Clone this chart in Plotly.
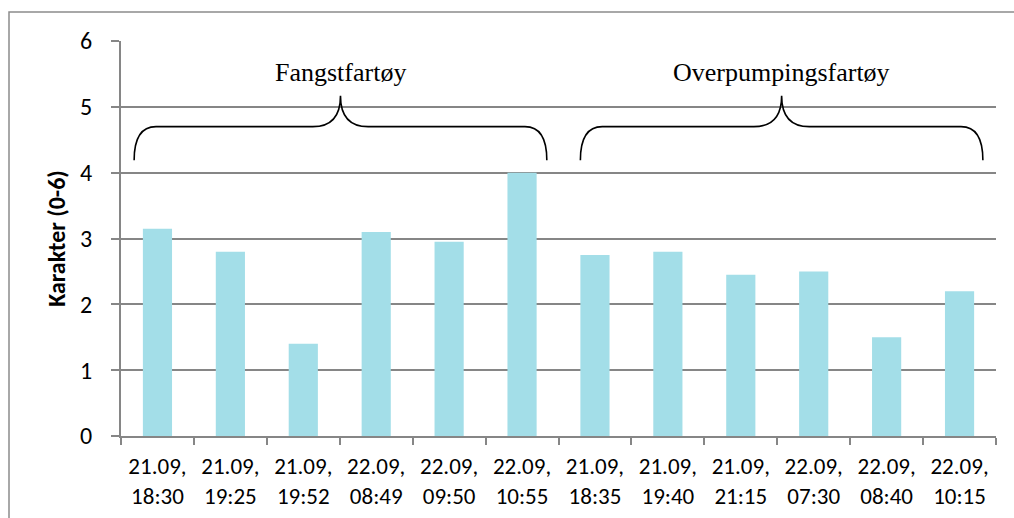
import plotly.graph_objects as go

categories = ["21.09,<br>18:30", "21.09,<br>19:25", "21.09,<br>19:52", "22.09,<br>08:49",
              "22.09,<br>09:50", "22.09,<br>10:55", "21.09,<br>18:35", "21.09,<br>19:40",
              "21.09,<br>21:15", "22.09,<br>07:30", "22.09,<br>08:40", "22.09,<br>10:15"]
values = [3.15, 2.8, 1.4, 3.1, 2.95, 4.0, 2.75, 2.8, 2.45, 2.5, 1.5, 2.2]
group_labels = ["Fangstfartøy", "Overpumpingsfartøy"]
group_spans = [(-0.32, 5.34), (5.80, 11.32)]
y_ticks = [0, 1, 2, 3, 4, 5, 6]

L, R, T, B = 121, 18, 41, 82
W, H = 1014, 518
pw, ph = W - L - R, H - T - B

fig = go.Figure()
fig.add_trace(go.Bar(x=categories, y=values, marker=dict(color="#A3DEE8", line=dict(width=0)),
                     width=0.4, showlegend=False))

shapes = []
annotations = []
y_end, y_bar, y_tip = 4.19, 4.70, 5.17
for (x0, x1), lab in zip(group_spans, group_labels):
    tip = (x0 + x1) / 2
    path = (f"M {x0},{y_end} Q {x0},{y_bar} {x0+0.3},{y_bar} L {tip-0.38},{y_bar} "
            f"Q {tip},{y_bar} {tip},{y_tip} Q {tip},{y_bar} {tip+0.38},{y_bar} "
            f"L {x1-0.3},{y_bar} Q {x1},{y_bar} {x1},{y_end}")
    shapes.append(dict(type="path", path=path, xref="x2", yref="y",
                       line=dict(color="black", width=1.6)))
    annotations.append(dict(x=tip, y=5.52, xref="x2", yref="y", text=lab, showarrow=False,
                            font=dict(family="Liberation Serif, Times New Roman, serif",
                                      size=26, color="black")))

# outer chart border
shapes.append(dict(type="rect", xref="paper", yref="paper",
                   x0=(9 - L) / pw, x1=(1030 - L) / pw,
                   y0=(H - 540 - B) / ph, y1=(H - 12 - B) / ph,
                   line=dict(color="#8C8C8C", width=1.5), fillcolor="rgba(0,0,0,0)", layer="below"))

font_fam = "Carlito, Calibri, Lato, Liberation Sans, Arial, sans-serif"
fig.update_layout(
    width=W, height=H,
    margin=dict(l=L, r=R, t=T, b=B, autoexpand=False),
    paper_bgcolor="white", plot_bgcolor="white",
    bargap=0.6,
    shapes=shapes, annotations=annotations,
    xaxis=dict(type="category", tickson="boundaries", ticks="outside", ticklen=7,
               tickcolor="#868686", tickwidth=1.5, showline=True, linecolor="#868686",
               linewidth=2, showgrid=False, ticklabelstandoff=8, automargin=False,
               tickfont=dict(family=font_fam, size=23, color="black"),
               range=[-0.5, 11.5]),
    xaxis2=dict(overlaying="x", range=[-0.5, 11.5], visible=False, showgrid=False),
    yaxis=dict(range=[0, 6], tickvals=y_ticks, ticks="outside", ticklen=8, tickcolor="#868686",
               tickwidth=1.5, showline=True, linecolor="#868686", linewidth=2,
               gridcolor="#868686", gridwidth=2, zeroline=False, ticklabelstandoff=14,
               automargin=False,
               tickfont=dict(family=font_fam, size=24, color="black"),
               title=dict(text="<b>Karakter (0-6)</b>", standoff=8,
                          font=dict(family=font_fam, size=24, color="black"))),
)

fig.write_html("out.html")
